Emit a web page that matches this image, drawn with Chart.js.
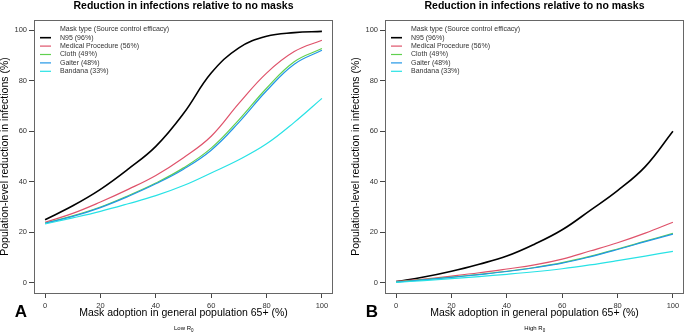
<!DOCTYPE html>
<html>
<head>
<meta charset="utf-8">
<script src="https://cdn.jsdelivr.net/npm/chart.js@4/dist/chart.umd.min.js"></script>
<style>
    html, body { margin: 0; padding: 0; background: #fff; }
    #wrap { position: relative; width: 685px; height: 335px; }
    .panel { position: absolute; top: 0; height: 335px; }
</style>
</head>
<body>
<div id="wrap">
    <div class="panel" style="left:0;width:342px"><canvas id="chartA" width="342" height="335"></canvas></div>
    <div class="panel" style="left:342px;width:343px"><canvas id="chartB" width="343" height="335"></canvas></div>
</div>
<script>
// Mask adoption (%) on the x axis
const adoption = [0, 10, 20, 30, 40, 50, 60, 70, 80, 90, 100];

// Panel A: low R0
const lowN95      = [25, 30.5, 37, 45, 54, 67, 83, 93, 97.6, 99, 99.5];
const lowMedical  = [24, 27.5, 32, 37, 42.5, 49.5, 58, 71, 83, 91.5, 96];
const lowCloth    = [23.7, 26.5, 30, 34.5, 39.5, 45.5, 53.3, 64.5, 77, 87.5, 92.7];
const lowGaiter   = [23.6, 26.3, 29.8, 34.2, 39.2, 45, 52.5, 63.5, 76, 86.5, 92];
const lowBandana  = [23.3, 25.7, 28.3, 31.3, 34.5, 38.5, 43.5, 48.7, 55, 63.5, 73];

// Panel B: high R0
const highN95     = [0.5, 2.3, 4.6, 7.4, 10.6, 15.3, 21, 28.6, 36.5, 46, 60];
const highMedical = [0.5, 1.5, 2.7, 4, 5.5, 7.1, 9.4, 12.6, 15.9, 19.7, 24];
const highCloth   = [0.4, 1.3, 2.3, 3.4, 4.6, 6.1, 8, 10.5, 13.4, 16.5, 19.6];
const highGaiter  = [0.3, 1.2, 2.2, 3.3, 4.5, 6, 7.8, 10.3, 13.2, 16.3, 19.3];
const highBandana = [0.2, 0.9, 1.7, 2.5, 3.4, 4.4, 5.6, 7.1, 8.8, 10.6, 12.5];

const maskLabels = ['N95 (96%)', 'Medical Procedure (56%)', 'Cloth (49%)', 'Gaiter (48%)', 'Bandana (33%)'];
const legendTitle = 'Mask type (Source control efficacy)';
const xTicks = [0, 20, 40, 60, 80, 100];
const yTicks = [0, 20, 40, 60, 80, 100];

const maskColors = ['#000000', '#DF536B', '#61D04F', '#2297E6', '#28E2E5'];
const FONT = '"Liberation Sans", Arial, sans-serif';

// Titles, legend, panel letter and box drawn around the chart area
const panelDecor = {
    id: 'panelDecor',
    afterDatasetsDraw(chart, args, opts) {
        const { ctx, chartArea: a } = chart;
        const cx = (a.left + a.right) / 2;
        ctx.save();

        // box
        ctx.strokeStyle = '#666';
        ctx.lineWidth = 1;
        ctx.strokeRect(a.left + 0.5, a.top + 0.5, a.right - a.left - 1, a.bottom - a.top);

        // legend
        ctx.fillStyle = '#333';
        ctx.font = '7px ' + FONT;
        ctx.textBaseline = 'middle';
        ctx.textAlign = 'left';
        ctx.fillText(legendTitle, a.left + 26, a.top + 9);
        chart.data.datasets.forEach((ds, i) => {
            const y = a.top + 17.7 + i * 8.4;
            ctx.strokeStyle = ds.borderColor;
            ctx.lineWidth = i === 0 ? 1.6 : 1.2;
            ctx.beginPath();
            ctx.moveTo(a.left + 6, y);
            ctx.lineTo(a.left + 17, y);
            ctx.stroke();
            ctx.fillText(ds.label, a.left + 26, y);
        });

        // main title
        ctx.fillStyle = '#000';
        ctx.textAlign = 'center';
        ctx.font = 'bold 10.5px ' + FONT;
        ctx.fillText('Reduction in infections relative to no masks', cx, 6);

        // x title and R0 note
        ctx.font = '10.5px ' + FONT;
        ctx.fillText('Mask adoption in general population 65+ (%)', cx, 313);
        ctx.font = '6px ' + FONT;
        const note = opts.note;
        const w = ctx.measureText(note).width;
        ctx.textAlign = 'left';
        ctx.fillText(note, cx - w / 2 - 1, 328.5);
        ctx.font = '4.5px ' + FONT;
        ctx.fillText('0', cx + w / 2 - 1, 330.5);

        // panel letter
        ctx.textAlign = 'center';
        ctx.font = 'bold 17px ' + FONT;
        ctx.fillText(opts.letter, a.left - 13, 312);

        // y title
        ctx.font = '10.5px ' + FONT;
        ctx.translate(a.left - 28.5, (a.top + a.bottom) / 2);
        ctx.rotate(-Math.PI / 2);
        ctx.fillText('Population-level reduction in infections (%)', 0, 0);
        ctx.restore();
    }
};

const makeChart = (canvasId, series, letter, note, yWidth, padRight) => {
    const ctx = document.querySelector(canvasId);
    return new Chart(ctx, {
        type: 'line',
        data: {
            labels: adoption,
            datasets: series.map((values, i) => ({
                label: maskLabels[i],
                data: adoption.map((x, j) => ({ x: x, y: values[j] })),
                borderColor: maskColors[i],
                borderWidth: i === 0 ? 1.6 : 1.2,
                pointRadius: 0,
                tension: 0.4,
                fill: false,
                order: series.length - i
            }))
        },
        options: {
            responsive: false,
            animation: false,
            layout: { padding: { left: 0, right: padRight, top: 20, bottom: 0 } },
            plugins: {
                legend: { display: false },
                tooltip: { enabled: false },
                panelDecor: { letter: letter, note: note }
            },
            scales: {
                x: {
                    type: 'linear',
                    min: -4,
                    max: 104,
                    afterBuildTicks: (scale) => { scale.ticks = xTicks.map(v => ({ value: v })); },
                    afterFit: (scale) => { scale.height = 42; },
                    border: { display: false },
                    grid: { drawOnChartArea: false, drawTicks: true, tickLength: 5, color: '#444' },
                    ticks: { color: '#333', font: { family: FONT, size: 7.5 }, padding: 3, maxRotation: 0 }
                },
                y: {
                    type: 'linear',
                    min: -4,
                    max: 104,
                    afterBuildTicks: (scale) => { scale.ticks = yTicks.map(v => ({ value: v })); },
                    afterFit: (scale) => { scale.width = yWidth; },
                    border: { display: false },
                    grid: { drawOnChartArea: false, drawTicks: true, tickLength: 5, color: '#444' },
                    ticks: { color: '#333', font: { family: FONT, size: 7.5 }, padding: 2 }
                }
            }
        },
        plugins: [panelDecor]
    });
};

makeChart('#chartA', [lowN95, lowMedical, lowCloth, lowGaiter, lowBandana], 'A', 'Low R', 34, 9);
makeChart('#chartB', [highN95, highMedical, highCloth, highGaiter, highBandana], 'B', 'High R', 43, 1);
</script>
</body>
</html>
